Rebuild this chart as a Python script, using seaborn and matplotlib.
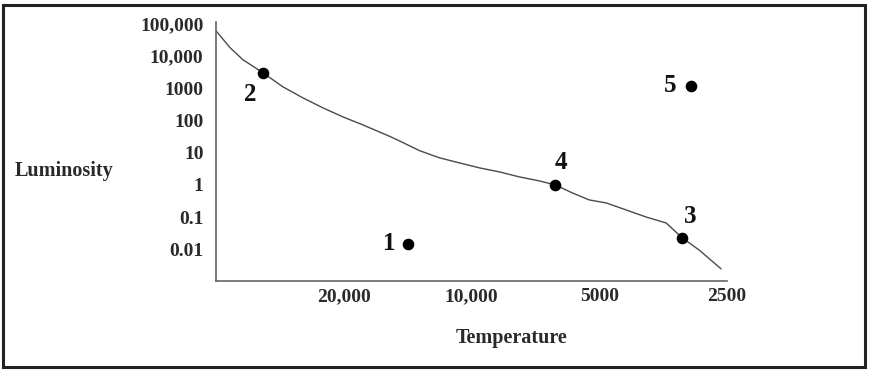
import matplotlib.pyplot as plt
import pandas as pd
import seaborn as sns
from matplotlib.patches import Rectangle
from matplotlib.ticker import FixedLocator, FixedFormatter, NullLocator

# main-sequence curve
curve_temp = [40000, 37080, 34570, 31010, 27830, 24970, 22410, 20110, 18050, 15590,
              14770, 13250, 11890, 10670, 9576, 8593, 7711, 6920, 6345, 5787,
              5279, 4814, 4320, 3876, 3478, 3190, 2909, 2582]
curve_lum = [60000, 18000, 7600, 3000, 1100, 500, 246, 129, 73, 32,
             23, 11.5, 6.9, 4.8, 3.37, 2.53, 1.77, 1.33, 1.0, 0.565,
             0.342, 0.276, 0.167, 0.101, 0.066, 0.023, 0.0096, 0.0025]

# numbered stars
star_ids = ["1", "2", "3", "4", "5"]
star_temp = [14140, 31010, 3190, 6345, 3040]
star_lum = [0.015, 3000, 0.023, 1.0, 1190]

ytick_vals = [1e5, 1e4, 1e3, 100, 10, 1, 0.1, 0.01]
ytick_labels = ["100,000", "10,000", "1000", "100", "10", "1", "0.1", "0.01"]
xtick_vals = [20000, 10000, 5000, 2500]
xtick_labels = ["20,000", "10,000", "5000", "2500"]

curve = pd.DataFrame({"temp": curve_temp, "lum": curve_lum})
stars = pd.DataFrame({"id": star_ids, "temp": star_temp, "lum": star_lum})

sns.set_style("white")
plt.rcParams["font.family"] = ["Liberation Serif", "DejaVu Serif"]
plt.rcParams["font.weight"] = "bold"

fig = plt.figure(figsize=(8.71, 3.71), dpi=100)
ax = fig.add_axes([0.248, 0.2426, 0.5867, 0.698])

sns.lineplot(data=curve, x="temp", y="lum", ax=ax, color="#4a4a4a", linewidth=1.0, sort=False)
sns.scatterplot(data=stars, x="temp", y="lum", ax=ax, color="black", s=70, edgecolor="black", linewidth=0, zorder=3)

ax.set_xscale("log")
ax.set_yscale("log")
ax.set_xlim(40000, 2500)
ax.set_ylim(1.05e-3, 1.12e5)

ax.xaxis.set_major_locator(FixedLocator(xtick_vals))
ax.xaxis.set_major_formatter(FixedFormatter(xtick_labels))
ax.xaxis.set_minor_locator(NullLocator())
ax.yaxis.set_major_locator(FixedLocator(ytick_vals))
ax.yaxis.set_major_formatter(FixedFormatter(ytick_labels))
ax.yaxis.set_minor_locator(NullLocator())

ax.tick_params(axis="both", direction="in", length=5, width=1, color="#555555",
               labelsize=14, labelcolor="#2a2a2a")
ax.tick_params(axis="x", pad=5)
ax.tick_params(axis="y", pad=9)
for side in ["top", "right"]:
    ax.spines[side].set_visible(False)
for side in ["left", "bottom"]:
    ax.spines[side].set_color("#666666")
    ax.spines[side].set_linewidth(1.2)

ax.set_xlabel("")
ax.set_ylabel("")
fig.text(0.073, 0.538, "Luminosity", fontsize=14.5, color="#2a2a2a", ha="center", va="center")
fig.text(0.587, 0.089, "Temperature", fontsize=14.5, color="#2a2a2a", ha="center", va="center")

# star numbers, offset in points from each dot
offsets = {"1": (-13, 0), "2": (-9, -16), "3": (6, 15), "4": (4, 16), "5": (-15, 0)}
for sid, t, lum in zip(star_ids, star_temp, star_lum):
    dx, dy = offsets[sid]
    ax.annotate(sid, (t, lum), xytext=(dx, dy), textcoords="offset points",
                fontsize=18, fontweight="bold", color="#111111", ha="center", va="center")

fig.patches.append(Rectangle((0.004, 0.011), 0.989, 0.976, transform=fig.transFigure,
                             fill=False, edgecolor="#222222", linewidth=2.2))

fig.savefig("out.png", dpi=100)
